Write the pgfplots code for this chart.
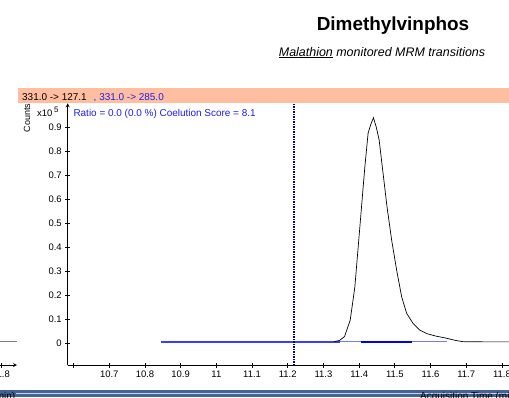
\documentclass[border=0pt]{standalone}
\usepackage{fontspec}
\setmainfont{Liberation Sans}
\usepackage{pgfplots}
\pgfplotsset{compat=1.18}
\definecolor{salmon}{RGB}{255,190,160}
\definecolor{qblue}{RGB}{30,30,240}
\definecolor{navyd}{RGB}{0,0,140}
\definecolor{bandblue}{RGB}{68,98,148}
\definecolor{qualblue}{RGB}{60,60,255}
\definecolor{paleblue}{RGB}{120,120,255}
\definecolor{intblue}{RGB}{0,0,235}
\pgfplotsset{
  chromstyle/.style={
    scale only axis, width=450.3bp, height=261.7bp,
    xmin=10.5835, xmax=11.845, ymin=-0.0904, ymax=1.0,
    axis line style={-, black, line width=0.8bp},
    tick align=outside, major tick length=5bp,
    tick style={black, line width=0.8bp},
    ticklabel style={font=\fontsize{9.5}{11}\selectfont},
    /pgf/number format/assume math mode=true,
  }
}
\begin{document}
\begin{tikzpicture}[x=1bp,y=1bp]
\useasboundingbox (0,0) rectangle (509,397);
\fill[white] (0,0) rectangle (509,397);
\clip (0,0) rectangle (509,397);
% bottom band
\fill[bandblue] (0,0) rectangle (509,7);
\draw[color={rgb,255:red,200;green,210;blue,230}, line width=0.8bp] (16,3.5) -- (509,3.5);
% titles
\node[anchor=base, inner sep=0, font=\bfseries\fontsize{19}{22}\selectfont] at (393,367) {Dimethylvinphos};
\node[anchor=base, inner sep=0, font=\itshape\fontsize{12.5}{15}\selectfont] at (382,341) {\underline{Malathion} monitored MRM transitions};
% header bar
\fill[salmon] (18,294) rectangle (509,308.7);
\node[anchor=base west, inner sep=0, font=\fontsize{10}{12}\selectfont] at (22,297) {331.0 -> 127.1\hspace{7bp}\textcolor{qblue}{, 331.0 -> 285.0}};
\node[anchor=base west, inner sep=0, text=qblue, font=\fontsize{10}{12}\selectfont] at (73.3,280.3) {Ratio = 0.0 (0.0 \%) Coelution Score = 8.1};
\node[anchor=base west, inner sep=0, font=\fontsize{9.5}{11}\selectfont] at (37,281) {x10\,\raisebox{4bp}{\fontsize{8}{9}\selectfont 5}};
\node[rotate=90, inner sep=0, font=\fontsize{9}{10}\selectfont] at (27,279) {Counts};
% left fragment panel
\begin{axis}[chromstyle, at={(-433.3bp,32bp)}, anchor=south west,
  axis x line=bottom, axis y line=none, ytick=\empty,
  xtick={11.8}, xticklabels={11.8}]
\addplot[gray, line width=0.8bp] coordinates {(11.6,0.007) (11.845,0.007)};
\end{axis}
% main panel
\begin{axis}[chromstyle, at={(67.7bp,32bp)}, anchor=south west,
  axis x line=bottom, axis y line=left,
  xtick={10.6,10.7,10.8,10.9,11.0,11.1,11.2,11.3,11.4,11.5,11.6,11.7,11.8},
  xticklabels={,10.7,10.8,10.9,11,11.1,11.2,11.3,11.4,11.5,11.6,11.7,11.8},
  ytick={0,0.1,0.2,0.3,0.4,0.5,0.6,0.7,0.8,0.9},
  yticklabels={0,0.1,0.2,0.3,0.4,0.5,0.6,0.7,0.8,0.9}]
% qualifier trace (flat, blue) drawn first, quantifier peak on top
\addplot[draw=qualblue, line width=1.6bp] coordinates {(10.845,0.0067) (11.345,0.0067)};
\addplot[draw=paleblue, line width=1.2bp] coordinates {(11.345,0.0067) (11.645,0.0067)};
\addplot[black, line width=0.7bp] coordinates {
(11.33,0.0067) (11.345,0.012) (11.359,0.028) (11.375,0.097) (11.388,0.236)
(11.402,0.486) (11.416,0.736) (11.425,0.875) (11.432,0.91) (11.440,0.94)
(11.448,0.90) (11.456,0.847) (11.467,0.708) (11.478,0.569) (11.491,0.43)
(11.505,0.305) (11.519,0.194) (11.533,0.125) (11.551,0.083) (11.57,0.055)
(11.59,0.04) (11.615,0.03) (11.645,0.021) (11.67,0.012) (11.69,0.007)
(11.75,0.006) (11.845,0.006)};
\addplot[draw=intblue, line width=2bp] coordinates {(11.405,0.0067) (11.547,0.0067)};
\addplot[navyd, line width=1.8bp, dash pattern=on 1.5bp off 1bp] coordinates {(11.2185,-0.0904) (11.2185,1.0)};
\end{axis}
% x label (cut off by bottom edge, as in the reference)
\node[anchor=base west, inner sep=0, font=\fontsize{10}{12}\selectfont] at (420,-2) {Acquisition Time (min)};
\node[anchor=base east, inner sep=0, font=\fontsize{10}{12}\selectfont] at (15.5,-2) {(min)};
\end{tikzpicture}
\end{document}
